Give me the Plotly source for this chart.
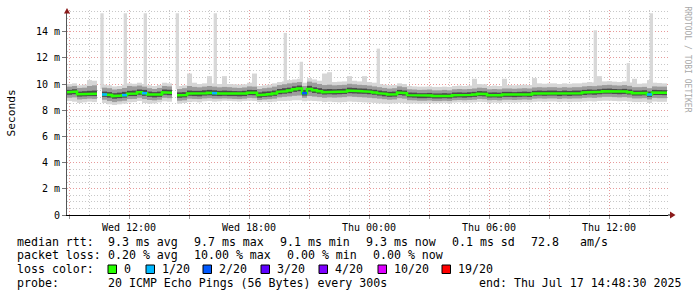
import plotly.graph_objects as go
import pandas as pd

# ---------------- data ----------------
START = "2025-07-16 08:54"
STEP_MINUTES = 15
X_END = "2025-07-17 14:57"

median = [
    9.37, 9.42, 9.22, 9.24, 9.26, 9.26, None, 9.20, 9.17, 9.08,
    9.12, 9.15, 9.26, 9.27, 9.37, 9.30, 9.20, 9.16, 9.20, 9.37,
    9.34, None, 9.14, 9.15, 9.28, 9.26, 9.25, 9.30, 9.33, 9.30,
    9.27, 9.29, 9.27, 9.26, 9.25, 9.27, 9.34, 9.33, 9.15, 9.20,
    9.22, 9.28, 9.40, 9.45, 9.50, 9.60, 9.66, 9.30, 9.62, 9.52,
    9.45, 9.38, 9.40, 9.38, 9.40, 9.42, 9.50, 9.48, 9.45, 9.44,
    9.40, 9.36, 9.30, 9.25, 9.20, 9.22, 9.35, 9.30, 9.15, 9.14,
    9.10, 9.10, 9.12, 9.08, 9.08, 9.10, 9.08, 9.15, 9.16, 9.14,
    9.17, 9.20, 9.26, 9.24, 9.15, 9.16, 9.14, 9.20, 9.20, 9.18,
    9.20, 9.22, 9.20, 9.28, 9.30, 9.28, 9.30, 9.30, 9.26, 9.30,
    9.27, 9.30, 9.30, 9.35, 9.38, 9.36, 9.40, 9.44, 9.45, 9.42,
    9.40, 9.43, 9.38, 9.30, 9.30, 9.32, 9.20, 9.35, 9.34, 9.33,
]

loss = [
    0, 0, 0, 0, 0, 0, 0, 1, 0, 0,
    0, 1, 0, 0, 0, 1, 0, 0, 0, 0,
    0, 0, 0, 0, 0, 0, 0, 0, 0, 1,
    0, 0, 0, 0, 0, 0, 0, 0, 0, 0,
    0, 0, 0, 0, 0, 0, 0, 2, 0, 0,
    0, 0, 0, 0, 0, 0, 0, 0, 0, 0,
    0, 0, 0, 0, 0, 0, 0, 0, 0, 0,
    0, 0, 0, 0, 0, 0, 0, 0, 0, 0,
    0, 0, 0, 0, 0, 0, 0, 0, 0, 0,
    0, 0, 0, 0, 0, 0, 0, 0, 0, 0,
    0, 0, 0, 0, 0, 0, 0, 0, 0, 0,
    0, 0, 0, 0, 0, 0, 1, 0, 0, 0,
]

lo_outer = [
    8.70, 8.65, 8.55, 8.60, 8.65, 8.62, None, 8.55, 8.45, 8.40,
    8.45, 8.50, 8.60, 8.62, 8.70, 8.55, 8.50, 8.52, 8.60, 8.68,
    8.65, None, 8.50, 8.55, 8.62, 8.65, 8.60, 8.68, 8.70, 8.65,
    8.68, 8.72, 8.70, 8.68, 8.66, 8.70, 8.72, 8.70, 8.62, 8.65,
    8.62, 8.65, 8.70, 8.70, 8.72, 8.75, 8.75, 8.68, 8.72, 8.70,
    8.68, 8.62, 8.65, 8.62, 8.60, 8.62, 8.66, 8.64, 8.62, 8.60,
    8.58, 8.56, 8.52, 8.50, 8.50, 8.52, 8.56, 8.54, 8.50, 8.52,
    8.50, 8.52, 8.55, 8.52, 8.54, 8.56, 8.52, 8.58, 8.60, 8.58,
    8.58, 8.60, 8.64, 8.62, 8.56, 8.58, 8.56, 8.60, 8.60, 8.58,
    8.60, 8.62, 8.60, 8.64, 8.66, 8.64, 8.66, 8.66, 8.62, 8.65,
    8.62, 8.64, 8.64, 8.66, 8.68, 8.66, 8.70, 8.72, 8.72, 8.70,
    8.68, 8.70, 8.66, 8.62, 8.62, 8.64, 8.55, 8.66, 8.64, 8.64,
]

lo_mid = [
    8.95, 8.98, 8.82, 8.85, 8.88, 8.86, None, 8.80, 8.70, 8.62,
    8.68, 8.72, 8.85, 8.86, 8.95, 8.85, 8.78, 8.75, 8.80, 8.95,
    8.92, None, 8.72, 8.75, 8.88, 8.86, 8.85, 8.90, 8.92, 8.88,
    8.88, 8.90, 8.88, 8.86, 8.85, 8.88, 8.94, 8.92, 8.78, 8.82,
    8.84, 8.88, 8.98, 9.02, 9.05, 9.10, 9.12, 8.95, 9.08, 9.04,
    9.00, 8.95, 8.98, 8.96, 8.98, 9.00, 9.05, 9.02, 9.00, 8.98,
    8.95, 8.92, 8.88, 8.84, 8.80, 8.82, 8.92, 8.88, 8.76, 8.75,
    8.72, 8.72, 8.74, 8.70, 8.70, 8.72, 8.70, 8.76, 8.78, 8.76,
    8.78, 8.80, 8.86, 8.84, 8.76, 8.78, 8.75, 8.80, 8.80, 8.78,
    8.80, 8.82, 8.80, 8.88, 8.90, 8.88, 8.90, 8.90, 8.86, 8.90,
    8.88, 8.90, 8.90, 8.94, 8.96, 8.94, 8.98, 9.02, 9.02, 9.00,
    8.98, 9.00, 8.96, 8.90, 8.90, 8.92, 8.82, 8.94, 8.92, 8.92,
]

lo_inner = [
    9.18, 9.22, 9.04, 9.06, 9.08, 9.08, None, 9.02, 8.96, 8.88,
    8.92, 8.96, 9.08, 9.08, 9.18, 9.10, 9.02, 8.98, 9.02, 9.18,
    9.15, None, 8.95, 8.98, 9.10, 9.08, 9.06, 9.12, 9.14, 9.10,
    9.08, 9.10, 9.08, 9.08, 9.06, 9.08, 9.15, 9.14, 8.96, 9.02,
    9.04, 9.10, 9.22, 9.26, 9.30, 9.40, 9.45, 9.12, 9.42, 9.32,
    9.26, 9.20, 9.22, 9.20, 9.22, 9.24, 9.30, 9.28, 9.26, 9.25,
    9.22, 9.18, 9.12, 9.06, 9.02, 9.04, 9.16, 9.12, 8.98, 8.96,
    8.92, 8.92, 8.94, 8.90, 8.90, 8.92, 8.90, 8.96, 8.98, 8.96,
    8.99, 9.02, 9.08, 9.06, 8.97, 8.98, 8.96, 9.02, 9.02, 9.00,
    9.02, 9.04, 9.02, 9.10, 9.12, 9.10, 9.12, 9.12, 9.08, 9.12,
    9.09, 9.12, 9.12, 9.16, 9.20, 9.18, 9.22, 9.26, 9.26, 9.24,
    9.22, 9.24, 9.20, 9.12, 9.12, 9.14, 9.02, 9.16, 9.16, 9.15,
]

hi_inner = [
    9.55, 9.60, 9.42, 9.45, 9.48, 9.50, None, 9.42, 9.38, 9.30,
    9.34, 9.40, 9.48, 9.50, 9.58, 9.55, 9.42, 9.38, 9.42, 9.58,
    9.56, None, 9.36, 9.38, 9.50, 9.48, 9.48, 9.52, 9.55, 9.52,
    9.48, 9.50, 9.48, 9.46, 9.45, 9.48, 9.55, 9.54, 9.36, 9.42,
    9.44, 9.50, 9.62, 9.68, 9.72, 9.82, 9.88, 9.55, 9.86, 9.75,
    9.68, 9.60, 9.62, 9.60, 9.62, 9.64, 9.72, 9.70, 9.66, 9.65,
    9.60, 9.56, 9.50, 9.45, 9.40, 9.42, 9.55, 9.50, 9.35, 9.34,
    9.30, 9.30, 9.32, 9.28, 9.28, 9.30, 9.28, 9.35, 9.36, 9.34,
    9.37, 9.40, 9.46, 9.44, 9.35, 9.36, 9.34, 9.40, 9.40, 9.38,
    9.40, 9.42, 9.40, 9.48, 9.50, 9.48, 9.50, 9.50, 9.46, 9.50,
    9.47, 9.50, 9.50, 9.55, 9.58, 9.56, 9.60, 9.64, 9.65, 9.62,
    9.60, 9.63, 9.58, 9.50, 9.50, 9.52, 9.42, 9.55, 9.54, 9.53,
]

hi_mid = [
    9.80, 9.85, 9.70, 9.72, 9.85, 9.90, None, 9.72, 9.68, 9.58,
    9.62, 9.70, 9.85, 9.82, 9.88, 9.80, 9.68, 9.62, 9.70, 9.85,
    9.82, None, 9.62, 9.68, 9.85, 9.78, 9.75, 9.80, 9.85, 9.80,
    9.75, 9.78, 9.76, 9.72, 9.70, 9.74, 9.82, 9.80, 9.62, 9.68,
    9.72, 9.80, 9.92, 9.98, 10.05, 10.10, 10.15, 9.85, 10.18, 10.10,
    10.00, 9.92, 9.95, 9.90, 9.92, 9.94, 10.02, 9.98, 9.94, 9.92,
    9.88, 9.82, 9.76, 9.70, 9.65, 9.68, 9.82, 9.76, 9.60, 9.58,
    9.55, 9.56, 9.58, 9.52, 9.52, 9.55, 9.52, 9.60, 9.62, 9.60,
    9.62, 9.66, 9.72, 9.70, 9.60, 9.62, 9.60, 9.66, 9.66, 9.64,
    9.66, 9.68, 9.66, 9.74, 9.76, 9.74, 9.76, 9.76, 9.72, 9.76,
    9.73, 9.76, 9.76, 9.82, 9.85, 9.84, 9.88, 9.92, 9.94, 9.90,
    9.88, 9.92, 9.86, 9.76, 9.76, 9.78, 9.68, 9.82, 9.80, 9.80,
]

hi_outer = [
    10.00, 10.05, 9.90, 9.95, 10.30, 10.25, None, 9.95, 9.90, 9.82,
    9.85, 9.95, 10.05, 10.02, 10.10, 10.00, 9.90, 9.85, 9.92, 10.10,
    10.05, None, 9.85, 9.90, 10.80, 10.10, 10.00, 10.05, 10.60, 10.05,
    10.00, 10.60, 10.00, 9.98, 9.95, 9.98, 10.10, 10.80, 9.85, 9.90,
    9.95, 10.05, 10.15, 10.20, 10.30, 10.35, 10.40, 10.10, 10.45, 10.35,
    10.25, 10.80, 10.90, 10.15, 10.18, 10.20, 10.60, 10.25, 10.20, 10.60,
    10.15, 10.10, 10.00, 9.95, 9.90, 9.92, 10.05, 10.00, 9.85, 9.82,
    9.80, 9.80, 9.82, 9.78, 9.78, 9.80, 9.78, 9.85, 9.88, 9.85,
    9.88, 10.40, 10.00, 9.98, 9.85, 9.88, 9.85, 10.40, 9.92, 9.90,
    9.92, 9.95, 9.92, 10.45, 10.05, 10.02, 10.05, 10.05, 10.00, 10.05,
    10.02, 10.05, 10.05, 10.10, 10.15, 10.12, 10.60, 10.20, 10.22, 10.18,
    10.15, 10.20, 10.12, 10.40, 10.02, 10.05, 10.30, 10.10, 10.08, 10.05,
]

spike_times = [
    "2025-07-16 10:39", "2025-07-16 11:49", "2025-07-16 12:49",
    "2025-07-16 14:25", "2025-07-16 16:19", "2025-07-16 19:49",
    "2025-07-16 20:37", "2025-07-17 00:28", "2025-07-17 11:19",
    "2025-07-17 12:58", "2025-07-17 14:07",
]
spike_tops = [15.4, 15.4, 15.4, 15.4, 15.4, 13.9, 11.7, 12.7, 14.1, 11.6, 15.4]
spike_base = 9.6

y_tick_vals = [0, 2, 4, 6, 8, 10, 12, 14]
y_tick_text = ["0", "2 m", "4 m", "6 m", "8 m", "10 m", "12 m", "14 m"]
x_tick_vals = [
    "2025-07-16 09:00", "2025-07-16 12:00", "2025-07-16 15:00",
    "2025-07-16 18:00", "2025-07-16 21:00", "2025-07-17 00:00",
    "2025-07-17 03:00", "2025-07-17 06:00", "2025-07-17 09:00",
    "2025-07-17 12:00",
]
x_tick_text = ["", "Wed 12:00", "", "Wed 18:00", "", "Thu 00:00",
               "", "Thu 06:00", "", "Thu 12:00"]

loss_counts = [0, 1, 2, 3, 4, 10, 19]
loss_labels = ["0", "1/20", "2/20", "3/20", "4/20", "10/20", "19/20"]
loss_colors = ["#26ff00", "#00b8ff", "#0059ff", "#5e00ff", "#7e00ff", "#dd00ff", "#ff0000"]

rtt_title = "median rtt:"
rtt_stats = ["9.3 ms avg", "9.7 ms max", "9.1 ms min", "9.3 ms now", "0.1 ms sd", "72.8", "am/s"]
loss_title = "packet loss:"
loss_stats = ["0.20 % avg", "10.00 % max", "0.00 % min", "0.00 % now"]
probe_title = "probe:"
probe_text = "20 ICMP Echo Pings (56 Bytes) every 300s"
end_text = "end: Thu Jul 17 14:48:30 2025"

# ---------------- layout geometry (pixels) ----------------
W, H = 697, 297
PL, PR, PT, PB = 67, 668, 10, 215
Y_MAX = 15.65
MONO = "DejaVu Sans Mono"


def px(x):
    return (x - PL) / (PR - PL)


def py(y):
    return (PB - y) / (PB - PT)


step = pd.Timedelta(minutes=STEP_MINUTES)
t0 = pd.Timestamp(START)
slot_start = [t0 + i * step for i in range(len(median))]
slot_mid = [t + step / 2 for t in slot_start]
step_ms = STEP_MINUTES * 60 * 1000

fig = go.Figure()

# spikes (max ping outliers)
fig.add_trace(go.Bar(
    x=pd.to_datetime(spike_times), y=[t - spike_base for t in spike_tops],
    base=spike_base, width=10 * 60 * 1000,
    marker=dict(color="#d8d8d8", line=dict(width=0)), hoverinfo="skip",
))

# smoke bands
for lo, hi, col in [(lo_outer, hi_outer, "#d6d6d6"),
                    (lo_mid, hi_mid, "#9c9c9c"),
                    (lo_inner, hi_inner, "#4a4a4a")]:
    hgt = [None if (a is None or b is None) else b - a for a, b in zip(lo, hi)]
    bas = [0 if a is None else a for a in lo]
    fig.add_trace(go.Bar(
        x=slot_mid, y=hgt, base=bas, width=step_ms,
        marker=dict(color=col, line=dict(width=0)), hoverinfo="skip",
    ))

# median line as steps
xs, ys = [], []
for i, v in enumerate(median):
    if v is None:
        xs.append(None)
        ys.append(None)
        continue
    xs += [slot_start[i], slot_start[i] + step]
    ys += [v, v]
fig.add_trace(go.Scatter(x=xs, y=ys, mode="lines",
                         line=dict(color=loss_colors[0], width=2.5),
                         hoverinfo="skip"))

# loss-coloured overlays
for cnt, col in zip(loss_counts[1:], loss_colors[1:]):
    lx, ly = [], []
    for i, (v, l) in enumerate(zip(median, loss)):
        if v is not None and l == cnt:
            lx += [slot_start[i], slot_start[i] + step, None]
            ly += [v, v, None]
    if lx:
        fig.add_trace(go.Scatter(x=lx, y=ly, mode="lines",
                                 line=dict(color=col, width=2.5),
                                 hoverinfo="skip"))

MINOR = "#c8c8c8"
MAJOR = "#e79a9a"
DASH = "1px,2px"

fig.update_layout(
    width=W, height=H,
    margin=dict(l=PL, r=W - PR, t=PT, b=H - PB),
    paper_bgcolor="white", plot_bgcolor="white",
    showlegend=False, barmode="overlay",
    font=dict(family=MONO, size=10, color="black"),
    xaxis=dict(
        type="date", range=[START, X_END],
        tickmode="array", tickvals=x_tick_vals, ticktext=x_tick_text,
        showgrid=True, gridcolor=MAJOR, griddash=DASH, gridwidth=1,
        minor=dict(dtick=3600000, tick0="2025-07-16 00:00", showgrid=True,
                   gridcolor=MINOR, griddash=DASH, gridwidth=1),
        showline=True, linecolor="black", linewidth=1,
        ticks="outside", ticklen=3, tickcolor="#999999",
        tickfont=dict(family=MONO, size=10, color="black"),
        zeroline=False, fixedrange=True,
    ),
    yaxis=dict(
        range=[0, Y_MAX],
        tickmode="array", tickvals=y_tick_vals, ticktext=y_tick_text,
        showgrid=True, gridcolor=MAJOR, griddash=DASH, gridwidth=1,
        minor=dict(dtick=0.5, tick0=0, showgrid=True,
                   gridcolor=MINOR, griddash=DASH, gridwidth=1),
        showline=True, linecolor="#555555", linewidth=1,
        ticks="outside", ticklen=4, tickcolor="#777777",
        tickfont=dict(family=MONO, size=10, color="black"),
        zeroline=False, fixedrange=True,
    ),
)

shapes = []
# axis arrows
shapes.append(dict(type="path", xref="paper", yref="paper",
                   path=f"M {px(64)} {py(13.5)} L {px(70)} {py(13.5)} L {px(67)} {py(8)} Z",
                   fillcolor="#8b1a1a", line=dict(width=0)))
shapes.append(dict(type="line", xref="paper", yref="paper",
                   x0=px(PR), x1=px(671), y0=0, y1=0,
                   line=dict(color="black", width=1)))
shapes.append(dict(type="path", xref="paper", yref="paper",
                   path=f"M {px(670)} {py(211.5)} L {px(670)} {py(218.5)} L {px(675.5)} {py(215)} Z",
                   fillcolor="#8b1a1a", line=dict(width=0)))

annotations = []


def label(text, x, y, size=11.6, anchor="left", **kw):
    annotations.append(dict(text=text, xref="paper", yref="paper",
                            x=px(x), y=py(y), xanchor=anchor, yanchor="middle",
                            showarrow=False, borderpad=0,
                            font=dict(family=MONO, size=size, color=kw.get("color", "black")),
                            textangle=kw.get("angle", 0)))


ROWS = [241.5, 255.2, 269, 282.7]
label(rtt_title, 16, ROWS[0])
for t, x in zip(rtt_stats, [107, 193, 279, 365, 451, 530, 579]):
    label(t, x, ROWS[0])
label(loss_title, 16, ROWS[1])
for t, x in zip(loss_stats, [107, 193, 286, 372]):
    label(t, x, ROWS[1])
label("loss color:", 16, ROWS[2])
sq_x = [108, 146, 203, 261, 319, 378, 442]
for t, col, x in zip(loss_labels, loss_colors, sq_x):
    shapes.append(dict(type="rect", xref="paper", yref="paper",
                       x0=px(x), x1=px(x + 8.5), y0=py(273.5), y1=py(265),
                       fillcolor=col, line=dict(color="black", width=1)))
    label(t, x + 15, ROWS[2])
label(probe_title, 16, ROWS[3])
label(probe_text, 107, ROWS[3])
label(end_text, 478, ROWS[3])

# y-axis title
label("Seconds", 10.5, 113, size=11.2, anchor="center", angle=-90)
# watermark
label("RRDTOOL / TOBI OETIKER", 687.5, 59, size=8, anchor="center",
      angle=90, color="#a8a8a8")

fig.update_layout(shapes=shapes, annotations=annotations)
fig.write_html("out.html")
